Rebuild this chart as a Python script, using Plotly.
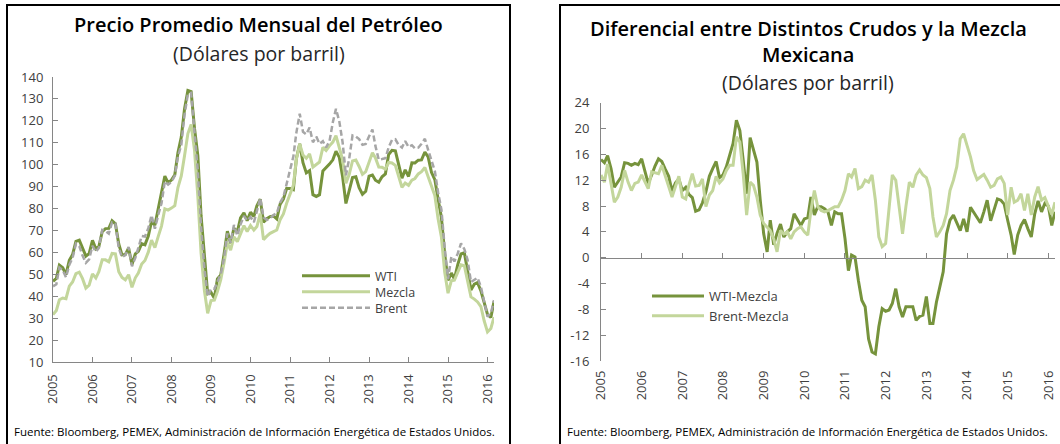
import pandas as pd
import plotly.graph_objects as go

# monthly averages, Jan 2005 - Mar 2016
months = pd.date_range("2005-01-01", periods=135, freq="MS")
years = list(range(2005, 2017))

wti = [46.84, 48.15, 54.19, 52.98, 49.83, 56.35, 59.00, 64.99, 65.59, 62.26, 58.32, 59.41,
       65.49, 61.63, 62.69, 69.44, 70.84, 70.95, 74.41, 73.04, 63.80, 58.89, 59.08, 61.96,
       54.51, 59.28, 60.44, 63.98, 63.46, 67.49, 74.12, 72.36, 79.92, 85.80, 94.77, 91.69,
       92.97, 95.39, 105.45, 112.58, 125.40, 133.88, 133.37, 116.67, 104.11, 76.61, 57.31, 41.12,
       41.71, 39.09, 47.94, 49.65, 59.03, 69.64, 64.15, 71.05, 69.41, 75.72, 77.99, 74.47,
       78.33, 76.39, 81.20, 84.29, 73.74, 75.34, 76.32, 76.60, 75.24, 81.89, 84.25, 89.15,
       89.17, 88.58, 102.86, 109.53, 100.90, 96.26, 97.30, 86.33, 85.52, 86.32, 97.16, 98.56,
       100.27, 102.20, 106.16, 103.32, 94.66, 82.30, 87.90, 94.13, 94.51, 89.49, 86.53, 87.86,
       94.76, 95.31, 92.94, 92.02, 94.51, 95.77, 104.67, 106.57, 106.29, 100.54, 93.86, 97.63,
       94.62, 100.82, 100.80, 102.07, 102.18, 105.79, 103.59, 96.54, 93.21, 84.40, 75.79, 59.29,
       47.22, 50.58, 47.82, 54.45, 59.27, 59.82, 50.90, 42.87, 45.48, 46.22, 42.44, 37.19,
       31.68, 30.32, 37.55]

mezcla = [31.6, 33.5, 38.4, 39.2, 38.9, 44.6, 46.5, 50.3, 51.0, 48.0, 43.7, 45.0,
          50.2, 48.3, 51.2, 56.6, 56.6, 55.7, 59.5, 59.3, 51.2, 48.6, 47.5, 49.8,
          44.1, 48.4, 50.6, 54.7, 56.3, 60.1, 65.6, 62.2, 67.3, 72.0, 79.9, 79.3,
          80.2, 81.3, 89.6, 94.9, 104.1, 114.2, 118.3, 106.8, 85.5, 59.7, 42.5, 32.2,
          38.0, 38.2, 42.1, 47.6, 55.2, 64.4, 61.0, 67.1, 64.9, 68.9, 72.2, 69.5,
          72.3, 70.2, 71.8, 77.7, 65.8, 67.4, 68.7, 69.5, 70.2, 74.8, 77.5, 82.4,
          86.2, 90.6, 102.5, 109.4, 104.4, 102.9, 104.9, 98.9, 100.1, 101.2, 107.9, 106.5,
          108.6, 110.3, 113.3, 108.1, 102.3, 91.5, 95.5, 101.7, 102.1, 99.2, 95.6, 96.8,
          100.8, 105.5, 103.1, 98.9, 98.8, 98.0, 101.0, 100.8, 99.7, 95.0, 89.7, 91.6,
          90.6, 93.0, 93.7, 95.8, 96.8, 98.7, 94.7, 90.8, 85.9, 75.3, 66.9, 51.0,
          41.4, 47.1, 47.3, 51.0, 54.3, 53.9, 46.4, 39.7, 38.7, 37.4, 35.3, 28.8,
          23.7, 25.3, 30.5]

brent = [44.51, 45.48, 53.10, 51.88, 48.65, 54.35, 57.52, 63.98, 62.91, 58.54, 55.24, 56.86,
         62.99, 60.21, 62.06, 70.26, 69.78, 68.56, 73.67, 73.23, 61.96, 57.81, 58.76, 62.47,
         53.68, 57.56, 62.05, 67.49, 67.21, 71.05, 76.93, 70.76, 77.17, 82.34, 92.41, 90.93,
         92.18, 94.99, 103.64, 109.07, 122.80, 132.32, 132.72, 113.24, 97.23, 71.58, 52.45, 39.95,
         43.44, 43.32, 46.54, 50.18, 57.30, 68.61, 64.44, 72.51, 67.65, 72.77, 76.66, 74.46,
         76.17, 73.75, 78.83, 84.82, 75.95, 74.76, 75.58, 77.04, 77.84, 82.67, 85.28, 91.45,
         96.52, 103.72, 114.64, 123.26, 114.99, 113.83, 116.97, 110.22, 112.83, 109.55, 110.77, 107.87,
         110.69, 119.33, 125.45, 119.75, 110.34, 95.16, 102.62, 113.36, 112.86, 111.71, 109.06, 109.49,
         112.96, 116.05, 108.47, 102.25, 102.56, 102.92, 107.93, 111.28, 111.60, 109.08, 107.79, 110.76,
         108.12, 108.90, 107.48, 107.76, 109.54, 111.80, 106.77, 101.61, 97.09, 87.43, 79.44, 62.34,
         47.76, 58.10, 55.89, 59.52, 64.08, 61.48, 56.56, 46.52, 47.62, 48.43, 44.27, 38.01,
         30.70, 32.18, 38.21]

wti_mezcla = [15.2, 14.7, 15.8, 13.8, 10.9, 11.8, 12.5, 14.7, 14.6, 14.3, 14.6, 14.4,
              15.3, 13.3, 11.5, 12.8, 14.2, 15.3, 14.9, 13.7, 12.6, 10.3, 11.6, 12.2,
              10.4, 10.9, 9.8, 9.3, 7.2, 7.4, 8.5, 10.2, 12.6, 13.8, 14.9, 12.4,
              12.8, 14.1, 15.9, 17.7, 21.3, 19.7, 15.1, 9.9, 18.6, 16.9, 14.8, 8.9,
              3.7, 0.9, 5.8, 2.0, 3.8, 5.2, 3.2, 4.0, 4.5, 6.8, 5.8, 5.0,
              6.0, 6.2, 9.4, 6.6, 7.9, 7.9, 7.6, 7.1, 5.0, 7.1, 6.8, 6.8,
              3.0, -2.0, 0.4, 0.1, -3.5, -6.6, -7.6, -12.6, -14.6, -14.9, -10.7, -7.9,
              -8.3, -8.1, -7.1, -4.8, -7.6, -9.2, -7.6, -7.6, -7.6, -9.7, -9.1, -8.9,
              -6.0, -10.2, -10.2, -6.9, -4.3, -2.2, 3.7, 5.8, 6.6, 5.5, 4.2, 6.0,
              4.0, 7.8, 7.1, 6.3, 5.4, 7.1, 8.9, 5.7, 7.3, 9.1, 8.9, 8.3,
              5.8, 3.5, 0.5, 3.5, 5.0, 5.9, 4.5, 3.2, 6.8, 8.8, 7.1, 8.4,
              8.0, 5.0, 7.1]

brent_mezcla = [12.8, 11.7, 14.5, 11.5, 8.6, 9.4, 10.9, 13.5, 11.7, 10.4, 11.5, 11.7,
                12.8, 11.7, 10.7, 13.3, 13.1, 13.0, 14.3, 12.8, 11.0, 9.4, 11.2, 12.6,
                9.4, 9.1, 11.2, 13.0, 11.1, 11.2, 12.2, 7.9, 9.7, 10.4, 12.6, 11.6,
                12.2, 13.5, 14.3, 14.3, 18.7, 17.9, 13.0, 6.6, 11.7, 11.2, 9.4, 6.6,
                5.3, 4.8, 4.2, 2.9, 0.9, 4.2, 3.7, 4.0, 2.9, 4.0, 4.5, 4.8,
                4.0, 3.5, 7.3, 10.4, 7.9, 7.3, 7.1, 7.3, 7.6, 7.9, 7.9, 8.9,
                10.4, 13.0, 12.5, 13.8, 10.7, 11.0, 12.0, 11.7, 12.8, 8.9, 3.2, 1.7,
                2.2, 7.3, 12.8, 12.0, 7.9, 3.7, 7.9, 11.7, 10.9, 12.8, 13.6, 12.8,
                12.4, 10.7, 6.3, 3.2, 4.0, 5.0, 6.8, 10.4, 12.0, 14.1, 18.4, 19.2,
                17.4, 15.6, 13.5, 12.1, 12.5, 12.9, 12.0, 10.9, 11.2, 12.2, 12.5, 11.5,
                6.6, 10.9, 8.6, 8.9, 9.9, 7.3, 9.9, 6.6, 9.4, 11.0, 8.9, 9.3,
                8.0, 6.7, 8.6]

left_yticks = list(range(10, 141, 10))
right_yticks = list(range(-16, 25, 4))

DARK = "#76933C"
LIGHT = "#C3D69B"
GREY = "#A6A6A6"
AXIS = "#868686"
TEXT = "#404040"
FONT = "Open Sans"

W, H = 1060, 444


def px_x(v):
    return v / W


def px_y(v):
    return 1 - v / H


fig = go.Figure()

# left panel: one single-entry legend per series so the rows sit 16px apart
fig.add_trace(go.Scatter(x=months, y=wti, name="WTI", mode="lines",
                         line=dict(color=DARK, width=3), xaxis="x", yaxis="y", legend="legend"))
fig.add_trace(go.Scatter(x=months, y=mezcla, name="Mezcla", mode="lines",
                         line=dict(color=LIGHT, width=3), xaxis="x", yaxis="y", legend="legend3"))
fig.add_trace(go.Scatter(x=months, y=brent, name="Brent", mode="lines",
                         line=dict(color=GREY, width=2.5, dash="6px,3px"), xaxis="x", yaxis="y",
                         legend="legend4"))

fig.add_trace(go.Scatter(x=months, y=wti_mezcla, name="WTI-Mezcla", mode="lines",
                         line=dict(color=DARK, width=3), xaxis="x2", yaxis="y2", legend="legend2"))
fig.add_trace(go.Scatter(x=months, y=brent_mezcla, name="Brent-Mezcla", mode="lines",
                         line=dict(color=LIGHT, width=3), xaxis="x2", yaxis="y2", legend="legend2"))
# carrier for the year ticks drawn on the zero line
fig.add_trace(go.Scatter(x=months, y=wti_mezcla, mode="lines", line=dict(width=0),
                         opacity=0, hoverinfo="skip", showlegend=False, xaxis="x3", yaxis="y2"))

year_vals = [f"{y}-01-01" for y in years]
year_text = [str(y) for y in years]
xrange_ = [months[0], months[-1]]

common_x = dict(type="date", range=xrange_, tickvals=year_vals, ticktext=year_text,
                tickangle=-90, tickfont=dict(family=FONT, size=13, color=TEXT),
                showgrid=False, zeroline=False, linecolor=AXIS, tickcolor=AXIS,
                ticklabelstandoff=6)


def left_legend(cy):
    return dict(x=px_x(297), y=px_y(cy), xanchor="left", yanchor="middle",
                bgcolor="rgba(0,0,0,0)", itemwidth=68,
                font=dict(family=FONT, size=12.5, color=TEXT))


fig.update_layout(
    width=W, height=H,
    margin=dict(l=0, r=0, t=0, b=0, autoexpand=False),
    paper_bgcolor="white", plot_bgcolor="white",
    font=dict(family=FONT, color=TEXT),
    xaxis=dict(common_x, domain=[px_x(53), px_x(494)], anchor="y",
               showline=True, ticks="inside", ticklen=5),
    yaxis=dict(domain=[px_y(362), px_y(77)], anchor="x", range=[10, 140],
               tickvals=left_yticks, showline=True, linecolor=AXIS, ticks="inside",
               ticklen=5, tickcolor=AXIS, showgrid=False, zeroline=False,
               tickfont=dict(family=FONT, size=13, color=TEXT), ticklabelstandoff=6),
    xaxis2=dict(common_x, domain=[px_x(601), px_x(1055)], anchor="y2",
                showline=False, ticks=""),
    xaxis3=dict(type="date", range=xrange_, tickvals=year_vals, overlaying="x2",
                anchor="free", position=px_y(257.6), showline=True, linecolor=AXIS,
                ticks="inside", ticklen=5, tickcolor=AXIS, showticklabels=False,
                showgrid=False, zeroline=False),
    yaxis2=dict(domain=[px_y(361), px_y(102.7)], anchor="x2", range=[-16, 24],
                tickvals=right_yticks, ticktext=[str(v) for v in right_yticks],
                showline=True, linecolor=AXIS, ticks="inside", ticklen=5, tickcolor=AXIS,
                showgrid=False, zeroline=False,
                tickfont=dict(family=FONT, size=13, color=TEXT), ticklabelstandoff=8),
    legend=left_legend(276),
    legend3=left_legend(292),
    legend4=left_legend(308),
    legend2=dict(x=px_x(647), y=px_y(281), xanchor="left", yanchor="top",
                 bgcolor="rgba(0,0,0,0)", itemwidth=52, font=dict(family=FONT, size=13, color=TEXT)),
    showlegend=True,
)

# panel frames
for x0, x1 in [(7, 510), (560, 1070)]:
    fig.add_shape(type="rect", xref="paper", yref="paper",
                  x0=px_x(x0), x1=px_x(x1), y0=px_y(450), y1=px_y(5),
                  line=dict(color="black", width=2), layer="below")

title_font = dict(family=FONT, size=20, color="black", weight=600)
sub_font = dict(family=FONT, size=19.5, color="#262626")
notes = [
    ("Precio Promedio Mensual del Petróleo", 258.5, 25, title_font),
    ("(Dólares por barril)", 258.5, 53, sub_font),
    ("Diferencial entre Distintos Crudos y la Mezcla", 808, 28, title_font),
    ("Mexicana", 808, 55, title_font),
    ("(Dólares por barril)", 808, 82, sub_font),
]
for text, cx, cy, f in notes:
    fig.add_annotation(text=text, x=px_x(cx), y=px_y(cy), xref="paper", yref="paper",
                       xanchor="center", yanchor="middle", showarrow=False, font=f)

source = "Fuente: Bloomberg, PEMEX, Administración de Información Energética de Estados Unidos."
for lx in (12, 565):
    fig.add_annotation(text=source, x=px_x(lx), y=px_y(431), xref="paper", yref="paper",
                       xanchor="left", yanchor="middle", showarrow=False,
                       font=dict(family=FONT, size=11.5, color="black"))

# drop the default page margin so the figure sits at the window corner
fig.write_html("out.html", config={"displayModeBar": False},
               post_script="document.body.style.margin='0';document.body.style.overflow='hidden';")
